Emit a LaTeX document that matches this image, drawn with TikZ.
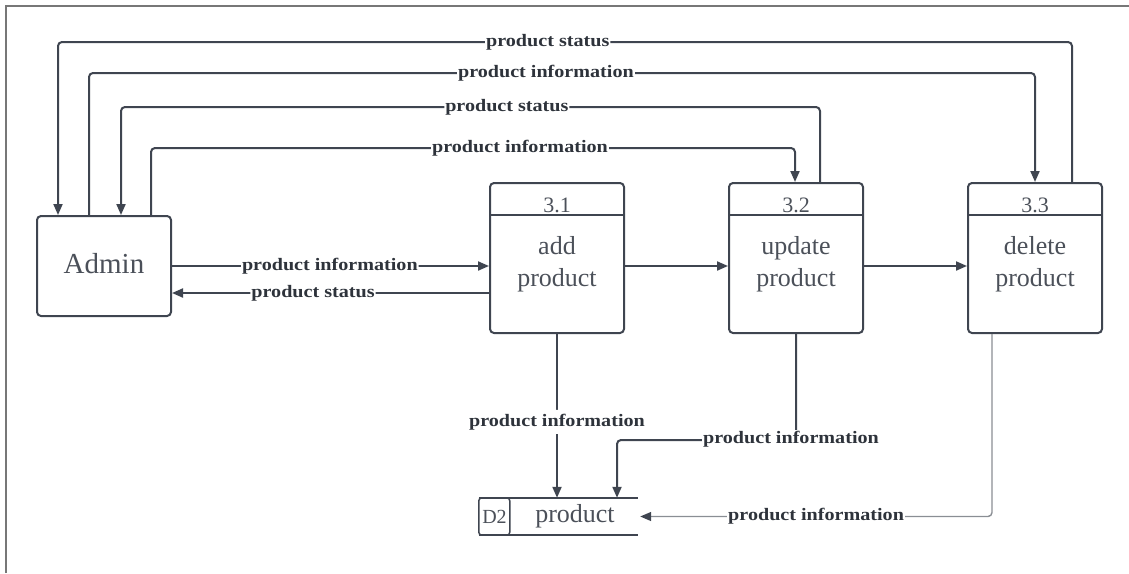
\documentclass[tikz,border=0pt]{standalone}
\usepackage{fontspec}
\setmainfont{Liberation Serif}
\newfontfamily\labfont{Liberation Serif}[FakeStretch=1.15]
\usetikzlibrary{arrows.meta,calc}
\definecolor{ln}{HTML}{3F4550}
\definecolor{lt}{HTML}{2E333B}
\definecolor{pt}{HTML}{4B5059}
\definecolor{frm}{HTML}{777777}
\definecolor{lg}{HTML}{8A8E94}
\tikzset{
  box/.style={draw=ln, line width=2pt, rounded corners=4pt, inner sep=0pt},
  conn/.style={draw=ln, line width=2pt, rounded corners=4pt},
  tip/.style={-{Triangle[length=11pt,width=9pt,color=ln,fill=ln]}},
  arr/.style={conn, tip},
  lab/.style={fill=white, inner sep=1pt, text=lt, font=\labfont\bfseries\fontsize{17.5}{18}\selectfont},
  ptext/.style={text=pt, font=\fontsize{26}{32}\selectfont, align=center, inner sep=0pt},
  htext/.style={text=pt, font=\fontsize{22}{24}\selectfont, inner sep=0pt},
}
\begin{document}
\begin{tikzpicture}[x=1pt,y=-1pt]
\useasboundingbox (0,0) rectangle (1129,573);
\draw[frm, line width=2.5pt] (6,573) -- (6,6) -- (1129,6);

% nodes
\node[box, minimum width=134pt, minimum height=100pt] (adm) at (104,266) {};
\node[text=pt, font=\fontsize{29}{32}\selectfont, inner sep=0pt] (admt) at (104,264) {Admin};

\node[box, minimum width=134pt, minimum height=150pt] (p1) at (557,258) {};
\node[box, minimum width=134pt, minimum height=150pt] (p2) at (796,258) {};
\node[box, minimum width=134pt, minimum height=150pt] (p3) at (1035,258) {};
\foreach \p in {p1,p2,p3}{
  \draw[ln, line width=2pt] ($(\p.north west)+(0,33)$) -- ($(\p.north east)+(0,33)$);
}
\node[htext] (h1) at (557,205) {3.1};
\node[htext] (h2) at (796,205) {3.2};
\node[htext] (h3) at (1035,205) {3.3};
\node[ptext] (t1) at (557,264) {add\\product};
\node[ptext] (t2) at (796,264) {update\\product};
\node[ptext] (t3) at (1035,264) {delete\\product};

% data store
\node[minimum width=159pt, minimum height=37pt, inner sep=0pt] (st) at (558.5,516.5) {};
\draw[ln, line width=1.5pt, rounded corners=3pt] (st.north west) rectangle ($(st.south west)+(31,0)$);
\draw[ln, line width=1.5pt] (st.north west) -- (st.north east);
\draw[ln, line width=1.5pt] (st.south west) -- (st.south east);
\node[htext, font=\fontsize{20}{22}\selectfont] (std) at (494.5,517) {D2};
\node[ptext] (stn) at (575,516) {product};

% level coordinates
\coordinate (y1) at (0,42);
\coordinate (y2) at (0,73);
\coordinate (y3) at (0,107);
\coordinate (y4) at (0,148);
\coordinate (y6) at (0,293);
\coordinate (y10) at (0,440);
\coordinate (a1) at ($(adm.north)+(-46,0)$);
\coordinate (a2) at ($(adm.north)+(-15,0)$);
\coordinate (a3) at ($(adm.north)+(17,0)$);
\coordinate (a4) at ($(adm.north)+(47,0)$);
\coordinate (q3a) at ($(p3.north)+(37,0)$);
\coordinate (q3b) at ($(p3.north)+(0,0)$);
\coordinate (q2a) at ($(p2.north)+(24,0)$);
\coordinate (q2b) at ($(p2.north)+(-1,0)$);
\coordinate (s2) at ($(st.north)+(58.5,0)$);
\coordinate (q3s) at ($(p3.south)+(-43,0)$);

% top connectors
\draw[arr] (q3a) -- (q3a |- y1) -- node[lab, pos=0.517] {product status} (a1 |- y1) -- (a1);
\draw[arr] (a2) -- (a2 |- y2) -- node[lab, pos=0.483] {product information} (q3b |- y2) -- (q3b);
\draw[arr] (q2a) -- (q2a |- y3) -- node[lab, pos=0.448] {product status} (a3 |- y3) -- (a3);
\draw[arr] (a4) -- (a4 |- y4) -- node[lab, pos=0.573] {product information} (q2b |- y4) -- (q2b);

% middle connectors
\draw[arr] (adm.east) -- node[lab, pos=0.498] {product information} (adm.east -| p1.west);
\draw[arr] (p1.west |- y6) -- node[lab, pos=0.555] {product status} (adm.east |- y6);
\draw[arr] (p1.east |- adm.east) -- (p2.west |- adm.east);
\draw[arr] (p2.east |- adm.east) -- (p3.west |- adm.east);

% to data store
\draw[arr] (p1.south) -- node[lab, inner sep=4pt, pos=0.536] {product information} (p1.south |- st.north);
\draw[arr] (p2.south) -- (p2.south |- y10) -- (s2 |- y10) -- (s2);
\node[lab] (l10) at (791,439) {product information};
\draw[draw=lg, line width=1.4pt, rounded corners=4pt, tip] (q3s) -- (q3s |- st.east) -- node[lab, pos=0.5] {product information} ($(st.east)+(2,0)$);
\end{tikzpicture}
\end{document}
